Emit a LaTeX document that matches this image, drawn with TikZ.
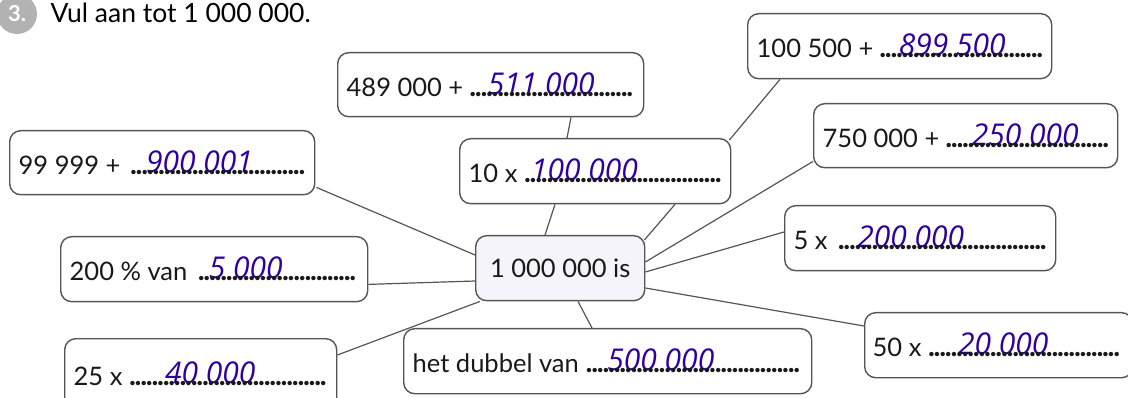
\documentclass[tikz,border=0pt]{standalone}
\usepackage{fontspec}
\setmainfont{Lato}
\newfontfamily\penfont{Open Sans}
\usetikzlibrary{calc}

% antwoord van de leerling, over de stippellijn
\newcommand{\antw}[2]{\rlap{\hspace{#1pt}\raisebox{2pt}{\fontsize{30}{34}\penfont\itshape\color{pen}#2}}}
% stippellijn tot aan de rand
\newcommand{\stip}{\leaders\hbox to 5.6pt{\hss\fontsize{29}{30}\selectfont\bfseries.\hss}\hfill}

\begin{document}
\begin{tikzpicture}[x=1pt,y=-1pt,
    every node/.style={font=\fontsize{25.5}{30}\selectfont},
    vak/.style={draw=rand,line width=1.4pt,rounded corners=11pt,anchor=north west,minimum height=65pt,inner xsep=8pt,text=inkt},
    lijn/.style={draw=rand,line width=1.2pt}]
        %kleuren
        \colorlet{pen}{blue!55!violet!80!black}
        \definecolor{rand}{RGB}{85,85,85}
        \definecolor{inkt}{RGB}{25,25,25}
        \definecolor{kern}{RGB}{244,244,250}

        \useasboundingbox (0,0) rectangle (1128,398);

        % Opdracht
        \node[circle,fill=black!30,minimum size=40pt,inner sep=0pt,font=\fontsize{22}{26}\selectfont\bfseries,text=white] (nr) at (17,14) {3.};
        \node[anchor=base west,font=\fontsize{26.5}{30}\selectfont] (titel) at (47,23) {Vul aan tot 1 000 000.};

        % Midden
        \node[vak,fill=kern,minimum width=169pt] (kern) at (475,235) {1 000 000 is};

        % Vakken links
        \node[vak,minimum height=64pt,minimum width=305pt] (n99) at (9,130) {\makebox[287pt][l]{99 999 + \antw{19}{900 001}\stip}};
        \node[vak,minimum width=307pt] (n200) at (60,236) {\makebox[289pt][l]{200 \% van \antw{15}{5 000}\stip}};
        \node[vak,minimum height=71pt,minimum width=272pt] (n25) at (64,338) {\makebox[254pt][l]{25 x \antw{36}{40 000}\stip}};
        % Vakken boven
        \node[vak,minimum height=64pt,minimum width=306pt] (n489) at (337,52) {\makebox[288pt][l]{489 000 + \antw{18}{511 000}\stip}};
        \node[vak,minimum width=271pt] (n10) at (459,138) {\makebox[253pt][l]{10 x \antw{7}{100 000}\stip}};
        \node[vak,minimum width=304pt] (n100) at (747,13) {\makebox[286pt][l]{100 500 + \antw{19}{899 500}\stip}};
        % Vakken rechts
        \node[vak,minimum height=64pt,minimum width=304pt] (n750) at (813,103) {\makebox[286pt][l]{750 000 + \antw{26}{250 000}\stip}};
        \node[vak,minimum width=271pt] (n5) at (784,205) {\makebox[253pt][l]{5 x \antw{23}{200 000}\stip}};
        \node[vak,minimum width=268pt] (n50) at (864,312) {\makebox[252pt][l]{50 x \antw{30}{20 000}\stip}};
        % Vak onder
        \node[vak,minimum width=408pt] (nhet) at (403,328) {\makebox[390pt][l]{het dubbel van \antw{22}{500 000}\stip}};

        % Verbindingen
        \draw[lijn] ($(n99.south east)+(1,-8)$) -- ($(kern.north west)+(0,20)$);
        \draw[lijn] ($(n200.south east)+(0,-18)$) -- ($(kern.north west)+(0,46)$);
        \draw[lijn] ($(n25.north east)+(0,17)$) -- ($(kern.south west)+(5,0)$);
        \draw[lijn] ($(nhet.north west)+(189,0)$) -- ($(kern.south west)+(103,0)$);
        \draw[lijn] ($(n50.north west)+(0,14)$) -- ($(kern.north east)+(0,53)$);
        \draw[lijn] ($(n5.north west)+(0,27)$) -- ($(kern.north east)+(0,37)$);
        \draw[lijn] ($(n750.south west)+(0,-7)$) -- ($(kern.north east)+(0,27)$);
        \draw[lijn] ($(n10.south west)+(216,0)$) -- ($(kern.north east)+(-1,5)$);
        \draw[lijn] ($(n10.south west)+(96,0)$) -- ($(kern.north west)+(70,0)$);
        \draw[lijn] ($(n489.south west)+(234,0)$) -- ($(n10.north west)+(108,0)$);
        \draw[lijn] ($(n100.south west)+(33,0)$) -- ($(n10.north east)+(-2,2)$);
    \end{tikzpicture}
\end{document}
